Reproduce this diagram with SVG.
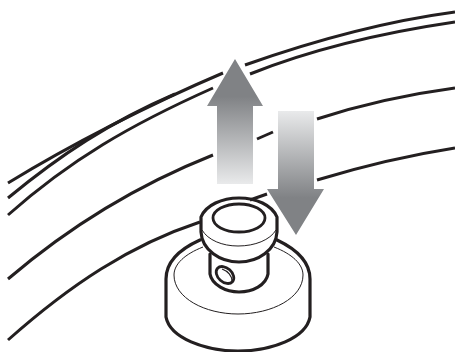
<svg xmlns="http://www.w3.org/2000/svg" width="455" height="352" viewBox="0 0 455 352">
<defs>
<linearGradient id="up" x1="0" y1="0" x2="0" y2="1"><stop offset="0.3" stop-color="#808285"/><stop offset="1" stop-color="#e9eaeb"/></linearGradient>
<linearGradient id="down" x1="0" y1="0" x2="0" y2="1"><stop offset="0" stop-color="#e9eaeb"/><stop offset="0.7" stop-color="#808285"/></linearGradient>
</defs>
<style>
.l{fill:none;stroke:#231f20;stroke-width:3;stroke-linecap:butt}
.k{fill:none;stroke:#231f20;stroke-width:3.2;stroke-linecap:round;stroke-linejoin:round}
.t{fill:none;stroke:#231f20;stroke-width:1}
</style>
<rect width="455" height="352" fill="#fff"/>
<g id="rim">
<path class="l" d="M8 183C70 145 150 104 223 73"/>
<path class="l" d="M8 198C60 155 110 122 175 94"/>
<path class="l" d="M8 215C70 160 130 125 213 88"/>
<path class="l" d="M245 65C310 42 380 22 455 12"/>
<path class="l" d="M250 74C310 50 380 33 455 22"/>
<path class="l" d="M8 279C70 226 140 184 213 155"/>
<path class="l" d="M257 139L273 132"/>
<path class="l" d="M317 119C360 105 410 94 455 88"/>
<path class="l" d="M8 340C70 285 130 245 200 222"/>
<path class="l" d="M250 200L267 194"/>
<path class="l" d="M317 180C360 167 410 155 455 148"/>
</g>
<g id="arrow-up">
<path d="M235 59L263 106H253V184H217V106H207Z" fill="url(#up)"/>
</g>
<g id="arrow-down">
<path d="M278 111H314V189H324L296 235L267 189H278Z" fill="url(#down)"/>
</g>
<g id="knob">
<path class="k" d="M200 240C180 249 166 262 166 279V317C170 338 205 351 238 351C272 351 306 338 310 317V279C310 262 296 249 277 240"/>
<path class="t" d="M203 247C185 254 174 264 174 275C174 298 205 314 238 314C272 314 303 298 303 275C303 264 292 254 274 247"/>
<path class="k" d="M210 254V274C212 285 226 292 239 292C253 292 266 285 268 274V254"/>
<ellipse cx="225" cy="275" rx="10" ry="7" transform="rotate(42 225 275)" fill="#fff" stroke="#231f20" stroke-width="2.8"/>
<path d="M222 269C228 271 232 276 232 281" fill="none" stroke="#231f20" stroke-width="1.2"/>
<path class="k" d="M201 217C206 205 222 198 239 198C256 198 272 205 277 217V232C276 250 258 262 239 262C220 262 202 250 201 232Z"/>
<path class="t" d="M202 230C208 240 222 246 238 246C255 246 270 240 276 230"/>
<ellipse cx="239" cy="218" rx="26" ry="14" fill="none" stroke="#231f20" stroke-width="2.8"/>
</g>
</svg>
